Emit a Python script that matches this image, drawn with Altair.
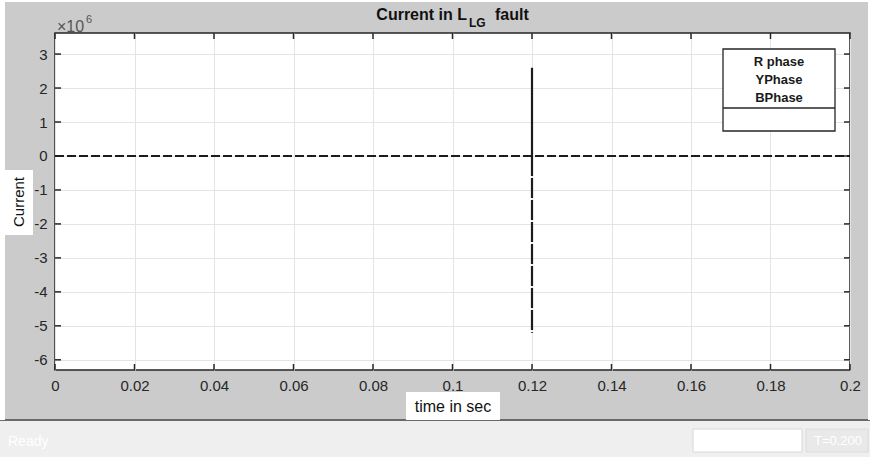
import altair as alt
import pandas as pd

# ---- data (current in units of 1e6 A) ----
series_names = ["R phase", "YPhase", "BPhase"]
time_r = [0.12, 0.12]
cur_r = [0.0, 2.6]
time_y = [0.12, 0.12]
cur_y = [0.0, -5.2]
time_b = [0.0, 0.2]
cur_b = [0.0, 0.0]

x_ticks = [0, 0.02, 0.04, 0.06, 0.08, 0.1, 0.12, 0.14, 0.16, 0.18, 0.2]
y_ticks = [-6, -5, -4, -3, -2, -1, 0, 1, 2, 3]

rows = []
for name, ts, cs in zip(series_names, [time_r, time_y, time_b], [cur_r, cur_y, cur_b]):
    for k, (t, c) in enumerate(zip(ts, cs)):
        rows.append({"series": name, "time": t, "current": c, "order": k})
df = pd.DataFrame(rows)

W, H = 795, 337
FONT = "Liberation Sans"
INK = "#262626"

xs = alt.Scale(domain=[0, 0.2], nice=False, zero=False)
ys = alt.Scale(domain=[-6.3, 3.62], nice=False, zero=False)

one = pd.DataFrame({"d": [0]})

def rect(x, x2, y, y2, fill, stroke=None, sw=0):
    kw = dict(fill=fill)
    if stroke:
        kw.update(stroke=stroke, strokeWidth=sw)
    else:
        kw.update(strokeWidth=0)
    return alt.Chart(one).mark_rect(**kw).encode(
        x=alt.value(x), x2=alt.value(x2), y=alt.value(y), y2=alt.value(y2))

def text(t, x, y, size=15, weight="normal", color=INK, align="center", baseline="middle", angle=0):
    kw = dict(text=t, font=FONT, fontSize=size, fontWeight=weight, color=color,
              align=align, baseline=baseline)
    if angle:
        kw["angle"] = angle
    return alt.Chart(one).mark_text(**kw).encode(x=alt.value(x), y=alt.value(y))

# figure decorations (plot coords: page x-55, page y-33)
deco = [
    rect(-55, 815, 387, 424, "#efefef"),          # status bar
    rect(-55, 815, 386, 388, "#6a6a6a"),          # separator
    rect(-55, -50, -33, 387, "#ffffff"),          # left white border
    rect(-55, 815, -33, -31, "#ffffff"),          # top white border
    rect(813, 815, -33, 387, "#ffffff"),          # right white border
    rect(638, 747, 396, 419, "#ffffff", "#d8d8d8", 1),
    rect(751, 813, 396, 419, "#e9e9e9", "#dcdcdc", 1),
    text("Ready", -47, 409, size=14, color="#ffffff", align="left"),
    text("T=0.200", 783, 408, size=13, color="#ffffff"),
]

x_axis = alt.Axis(
    values=x_ticks, title=None, grid=True, gridColor="#e4e4e4", domain=False,
    ticks=False, labelPadding=8, labelFontSize=15, labelFont=FONT, labelColor=INK,
    labelExpr="datum.value == 0 ? '0' : format(datum.value, '.2~f')",
    labelFlush=False, labelOverlap=False)
y_axis = alt.Axis(
    values=y_ticks, title=None, grid=True, gridColor="#e4e4e4", domain=False,
    ticks=False, labelPadding=8, labelFontSize=15, labelFont=FONT, labelColor=INK,
    labelExpr="'' + datum.value",
    labelFlush=False, labelOverlap=False)

base = alt.Chart(df).encode(
    x=alt.X("time:Q", scale=xs, axis=x_axis),
    y=alt.Y("current:Q", scale=ys, axis=y_axis),
)

lines = base.mark_line(strokeWidth=2.2, color="#1c1c1c").encode(
    strokeDash=alt.StrokeDash("series:N", scale=alt.Scale(
        domain=series_names, range=[[1, 0], [20, 2], [9, 3]]), legend=None),
    order="order:Q",
    detail="series:N",
)

xt = pd.DataFrame({"t": x_ticks})
yt = pd.DataFrame({"v": y_ticks})
tick_col = INK
ticks = [
    alt.Chart(xt).mark_rule(color=tick_col, strokeWidth=1.5).encode(
        x=alt.X("t:Q", scale=xs, axis=x_axis), y=alt.value(H), y2=alt.value(H - 6)),
    alt.Chart(xt).mark_rule(color=tick_col, strokeWidth=1.5).encode(
        x=alt.X("t:Q", scale=xs, axis=x_axis), y=alt.value(0), y2=alt.value(6)),
    alt.Chart(yt).mark_rule(color=tick_col, strokeWidth=1.5).encode(
        y=alt.Y("v:Q", scale=ys, axis=y_axis), x=alt.value(0), x2=alt.value(6)),
    alt.Chart(yt).mark_rule(color=tick_col, strokeWidth=1.5).encode(
        y=alt.Y("v:Q", scale=ys, axis=y_axis), x=alt.value(W), x2=alt.value(W - 6)),
]

# legend box (text only, as in reference)
legend = [
    rect(668, 780, 16, 98, "#ffffff", INK, 1.3),
    alt.Chart(one).mark_rule(color=INK, strokeWidth=1.3).encode(
        x=alt.value(668), x2=alt.value(780), y=alt.value(75)),
]
for i, nm in enumerate(series_names):
    legend.append(text(nm, 724, 29 + 18 * i, size=13, weight="bold", color="#1a1a1a"))

# titles & labels
labels = [
    text("Current in L", 412, -18, size=16, weight="bold", color="#111111", align="right"),
    text("LG", 414, -10, size=12, weight="bold", color="#111111", align="left"),
    text("fault", 440, -18, size=16, weight="bold", color="#111111", align="left"),
    text("×10", 2, -6, size=16, color="#555555", align="left"),
    text("6", 31, -13, size=11, color="#555555", align="left"),
    rect(351, 445, 359, 387, "#ffffff"),
    text("time in sec", 398, 374, size=16, color="#111111"),
    rect(-50, -22, 137, 202, "#ffffff"),
    text("Current", -36, 169, size=15, color="#111111", angle=270),
]

chart = alt.layer(*deco, base.mark_point(opacity=0), *ticks, lines, *legend, *labels).properties(
    width=W, height=H,
    autosize=alt.AutoSizeParams(type="none"),
    padding={"left": 55, "top": 33, "right": 20, "bottom": 87},
    background="#cbcbcb",
).configure_view(fill="#ffffff", stroke=INK, strokeWidth=1.5)

chart.save("out.html", embed_options={"renderer": "svg", "actions": False})
